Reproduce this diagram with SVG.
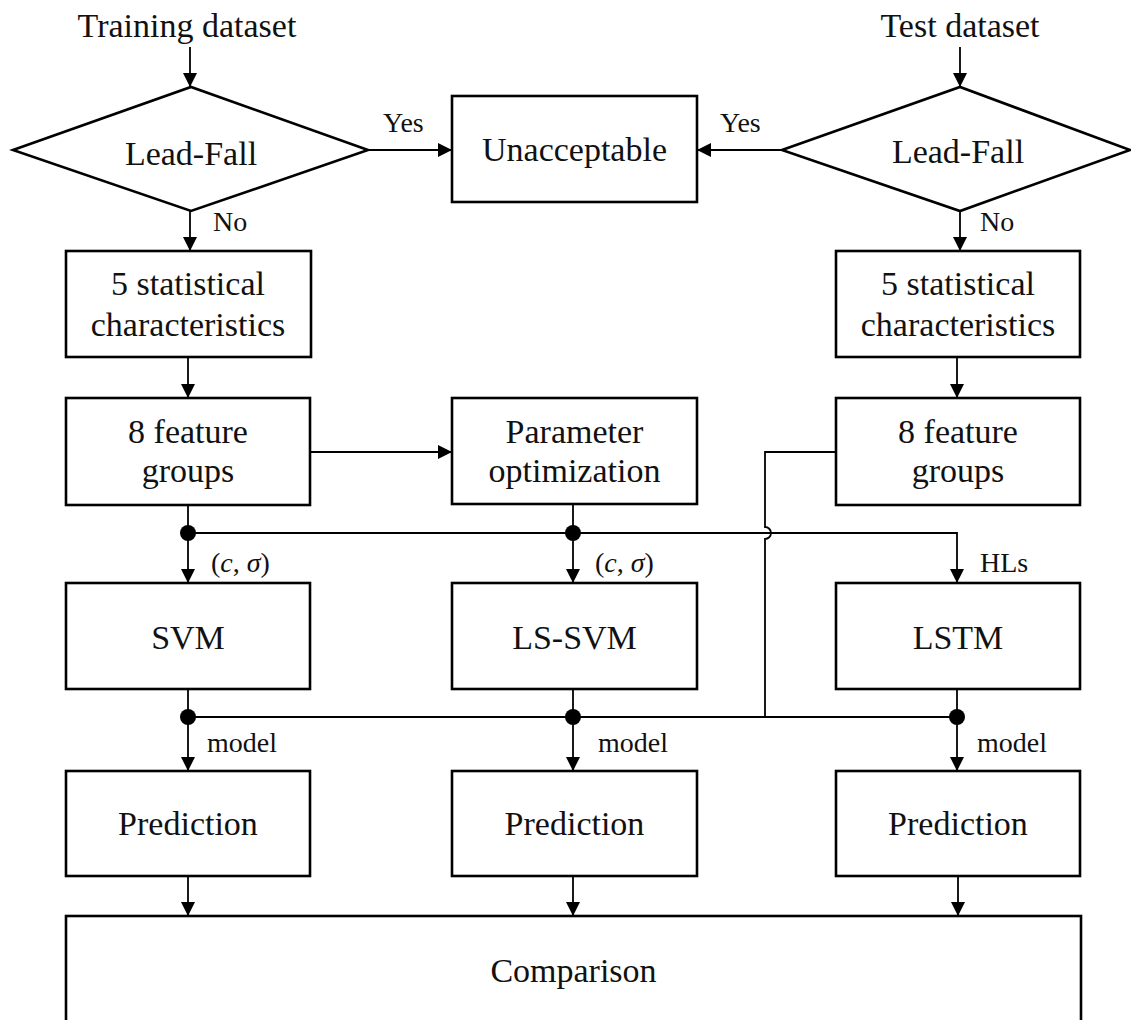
<svg xmlns="http://www.w3.org/2000/svg" width="1131" height="1020" viewBox="0 0 1131 1020">
<style>
  .box { fill: #ffffff; stroke: #000000; stroke-width: 2.6; }
  .ln { fill: none; stroke: #000000; stroke-width: 1.8; }
  .arr { fill: none; stroke: #000000; stroke-width: 1.8; marker-end: url(#ah); }
  .t { font-family: "Liberation Serif", "Times New Roman", serif; font-size: 34px; fill: #111111; text-anchor: middle; }
  .s { font-family: "Liberation Serif", "Times New Roman", serif; font-size: 28px; fill: #111111; }
  .dot { fill: #000000; }
</style>
<defs>
  <marker id="ah" markerUnits="userSpaceOnUse" markerWidth="14" markerHeight="14" refX="14" refY="7" orient="auto">
    <path d="M0,0 L14,7 L0,14 Z" fill="#000000"/>
  </marker>
</defs>
<rect width="1131" height="1020" fill="#ffffff"/>

<g id="connectors">
  <line class="arr" x1="190" y1="47" x2="190" y2="87"/>
  <line class="arr" x1="960" y1="47" x2="960" y2="87"/>
  <line class="arr" x1="368" y1="150" x2="452" y2="150"/>
  <line class="arr" x1="782" y1="150" x2="697" y2="150"/>
  <line class="arr" x1="190" y1="211" x2="190" y2="251"/>
  <line class="arr" x1="960" y1="211" x2="960" y2="251"/>
  <line class="arr" x1="188" y1="357" x2="188" y2="398"/>
  <line class="arr" x1="957" y1="357" x2="957" y2="398"/>
  <line class="arr" x1="310" y1="452" x2="452" y2="452"/>
  <line class="arr" x1="188" y1="505" x2="188" y2="583"/>
  <line class="arr" x1="573" y1="504" x2="573" y2="583"/>
  <polyline class="arr" points="188,533 957,533 957,583"/>
  <path class="ln" d="M836,452 H765 V527 A6,6 0 0 1 765,539 V717"/>
  <line class="ln" x1="188" y1="717" x2="957" y2="717"/>
  <line class="arr" x1="188" y1="689" x2="188" y2="771"/>
  <line class="arr" x1="573" y1="689" x2="573" y2="771"/>
  <line class="arr" x1="957" y1="689" x2="957" y2="771"/>
  <line class="arr" x1="188" y1="876" x2="188" y2="916"/>
  <line class="arr" x1="573" y1="876" x2="573" y2="916"/>
  <line class="arr" x1="958" y1="876" x2="958" y2="916"/>
  <circle class="dot" cx="188" cy="533" r="8"/>
  <circle class="dot" cx="573" cy="533" r="8"/>
  <circle class="dot" cx="188" cy="717" r="8"/>
  <circle class="dot" cx="573" cy="717" r="8"/>
  <circle class="dot" cx="957" cy="717" r="8"/>
  <text class="s" x="383" y="132">Yes</text>
  <text class="s" x="720" y="132">Yes</text>
  <text class="s" x="213" y="231">No</text>
  <text class="s" x="980" y="231">No</text>
  <text class="s" x="211" y="572">(<tspan font-style="italic">c</tspan>, <tspan font-style="italic">σ</tspan>)</text>
  <text class="s" x="595" y="572">(<tspan font-style="italic">c</tspan>, <tspan font-style="italic">σ</tspan>)</text>
  <text class="s" x="980" y="572">HLs</text>
  <text class="s" x="207" y="752">model</text>
  <text class="s" x="598" y="752">model</text>
  <text class="s" x="977" y="752">model</text>
</g>

<g id="training-dataset"><text class="t" x="187" y="37">Training dataset</text></g>
<g id="test-dataset"><text class="t" x="960" y="37">Test dataset</text></g>

<g id="leadfall-train">
  <polygon class="box" points="13,150 191,87 368,150 191,211"/>
  <text class="t" x="191" y="165">Lead-Fall</text>
</g>
<g id="unacceptable">
  <rect class="box" x="452" y="96" width="245" height="106"/>
  <text class="t" x="574.5" y="161">Unacceptable</text>
</g>
<g id="leadfall-test">
  <polygon class="box" points="782,150 960,87 1130,150 960,211"/>
  <text class="t" x="958" y="163">Lead-Fall</text>
</g>

<g id="stat-train">
  <rect class="box" x="66" y="251" width="245" height="106"/>
  <text class="t" x="188" y="295">5 statistical</text>
  <text class="t" x="188" y="336">characteristics</text>
</g>
<g id="stat-test">
  <rect class="box" x="836" y="251" width="244" height="106"/>
  <text class="t" x="958" y="295">5 statistical</text>
  <text class="t" x="958" y="336">characteristics</text>
</g>

<g id="feat-train">
  <rect class="box" x="66" y="398" width="244" height="107"/>
  <text class="t" x="188" y="443">8 feature</text>
  <text class="t" x="188" y="482">groups</text>
</g>
<g id="param-opt">
  <rect class="box" x="452" y="398" width="245" height="106"/>
  <text class="t" x="574.5" y="443">Parameter</text>
  <text class="t" x="574.5" y="482">optimization</text>
</g>
<g id="feat-test">
  <rect class="box" x="836" y="398" width="244" height="107"/>
  <text class="t" x="958" y="443">8 feature</text>
  <text class="t" x="958" y="482">groups</text>
</g>

<g id="svm">
  <rect class="box" x="66" y="583" width="244" height="106"/>
  <text class="t" x="188" y="649">SVM</text>
</g>
<g id="ls-svm">
  <rect class="box" x="452" y="583" width="245" height="106"/>
  <text class="t" x="574.5" y="649">LS-SVM</text>
</g>
<g id="lstm">
  <rect class="box" x="836" y="583" width="244" height="106"/>
  <text class="t" x="958" y="649">LSTM</text>
</g>

<g id="pred-svm">
  <rect class="box" x="66" y="771" width="244" height="105"/>
  <text class="t" x="188" y="835">Prediction</text>
</g>
<g id="pred-lssvm">
  <rect class="box" x="452" y="771" width="245" height="105"/>
  <text class="t" x="574.5" y="835">Prediction</text>
</g>
<g id="pred-lstm">
  <rect class="box" x="836" y="771" width="244" height="105"/>
  <text class="t" x="958" y="835">Prediction</text>
</g>

<g id="comparison">
  <rect class="box" x="66" y="916" width="1015" height="130"/>
  <text class="t" x="573.5" y="982">Comparison</text>
</g>
</svg>
